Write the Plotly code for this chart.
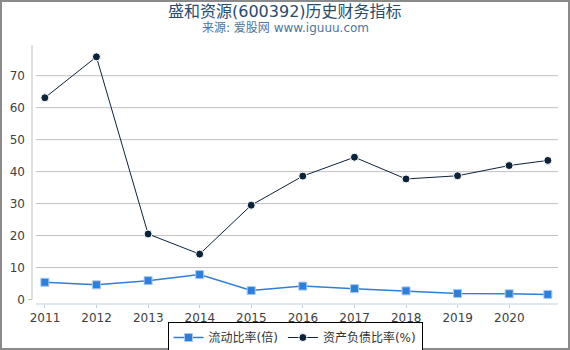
import plotly.graph_objects as go

dates = ["2010-12-31", "2011-12-31", "2012-12-31", "2013-12-31", "2014-12-31",
         "2015-12-31", "2016-12-31", "2017-12-31", "2018-12-31", "2019-12-31", "2020-09-30"]
current_ratio = [5.4, 4.6, 5.9, 7.8, 2.8, 4.2, 3.4, 2.7, 1.9, 1.8, 1.6]
debt_ratio = [63.1, 75.9, 20.5, 14.2, 29.5, 38.6, 44.5, 37.7, 38.7, 41.9, 43.5]
tick_years = ["2011", "2012", "2013", "2014", "2015", "2016", "2017", "2018", "2019", "2020"]
y_ticks = [0, 10, 20, 30, 40, 50, 60, 70]

W, H = 570, 350
ML, MR, MT, MB = 32, 12, 45, 46
PW, PH = W - ML - MR, H - MT - MB


def px_x(px):
    return (px - ML) / PW


def px_y(py):
    return (MT + PH - py) / PH


fig = go.Figure()
fig.add_trace(go.Scatter(
    x=dates, y=current_ratio, name="流动比率(倍)", mode="lines+markers",
    line=dict(color="#2f7ed8", width=1.5),
    marker=dict(symbol="square", size=8, color="#2f7ed8", line=dict(color="#a8c8f0", width=1)),
))
fig.add_trace(go.Scatter(
    x=dates, y=debt_ratio, name="资产负债比率(%)", mode="lines+markers",
    line=dict(color="#0d233a", width=1),
    marker=dict(symbol="circle", size=8, color="#0d233a", line=dict(color="#ffffff", width=1)),
))

shapes = []
for v in y_ticks[1:]:
    shapes.append(dict(type="line", xref="paper", yref="y", x0=px_x(36), x1=1, y0=v, y1=v,
                       line=dict(color="#c0c0c0", width=1), layer="below"))
# y axis line (ends at zero) with a small tick at zero
shapes.append(dict(type="line", xref="paper", yref="paper", x0=0, x1=0, y0=px_y(299.5), y1=1,
                   line=dict(color="#c0c0c0", width=1)))
shapes.append(dict(type="line", xref="paper", yref="y", x0=px_x(28), x1=0, y0=y_ticks[0], y1=y_ticks[0],
                   line=dict(color="#c0c0c0", width=1)))
# x axis line
shapes.append(dict(type="line", xref="paper", yref="paper", x0=px_x(36), x1=1, y0=0, y1=0,
                   line=dict(color="#c0d0e0", width=1)))
# outer border
shapes.append(dict(type="rect", xref="paper", yref="paper",
                   x0=px_x(1), x1=px_x(W - 1), y0=px_y(H - 1), y1=px_y(1),
                   line=dict(color="#8a8a8a", width=2), fillcolor="rgba(0,0,0,0)"))

font_fam = "DejaVu Sans, Noto Sans CJK SC, sans-serif"
annotations = [
    dict(text="盛和资源(600392)历史财务指标", xref="paper", yref="paper",
         x=px_x(W / 2), y=px_y(11), xanchor="center", yanchor="middle", showarrow=False,
         font=dict(family=font_fam, size=16, color="#274b6d")),
    dict(text="来源: 爱股网 www.iguuu.com", xref="paper", yref="paper",
         x=px_x(W / 2), y=px_y(28), xanchor="center", yanchor="middle", showarrow=False,
         font=dict(family=font_fam, size=12, color="#4d759e")),
]

fig.update_layout(
    width=W, height=H,
    margin=dict(l=ML, r=MR, t=MT, b=MB, autoexpand=False),
    paper_bgcolor="white", plot_bgcolor="white",
    font=dict(family=font_fam, size=12, color="#404040"),
    xaxis=dict(
        type="date", range=["2010-10-01", "2020-12-11"],
        tickvals=[y + "-01-01" for y in tick_years], ticktext=tick_years,
        showgrid=False, zeroline=False, showline=False,
        ticks="outside", ticklen=3, tickcolor="#c0d0e0", ticklabelstandoff=0,
        tickfont=dict(family=font_fam, size=12, color="#404040"),
    ),
    yaxis=dict(
        range=[-1.4, 79.6], tickvals=y_ticks,
        showgrid=False, zeroline=False, showline=False,
        ticks="", ticklabelstandoff=6,
        tickfont=dict(family=font_fam, size=12, color="#404040"),
    ),
    shapes=shapes,
    annotations=annotations,
    showlegend=True,
    legend=dict(
        orientation="h", x=0.5, xanchor="center", y=px_y(337.5), yanchor="middle",
        bordercolor="#000000", borderwidth=1, bgcolor="white",
        font=dict(family=font_fam, size=12, color="#333333"),
        itemwidth=30, tracegroupgap=0,
    ),
)
fig.write_html("out.html")
